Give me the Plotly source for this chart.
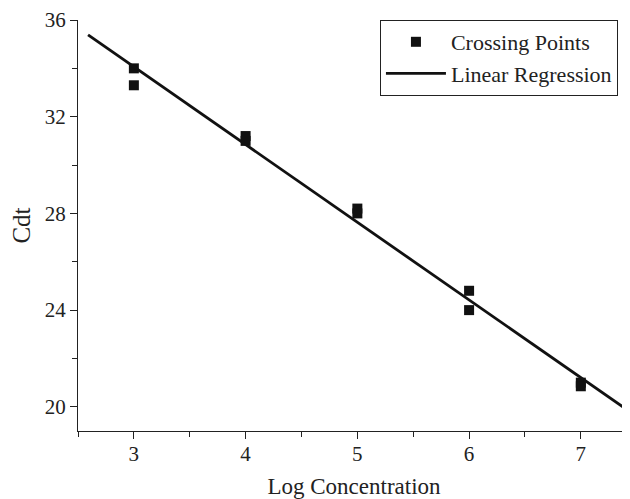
import numpy as np
import plotly.graph_objects as go

# Data
log_conc = [3, 3, 4, 4, 5, 5, 6, 6, 7, 7]
cdt = [34.0, 33.3, 31.2, 31.0, 28.2, 28.0, 24.8, 24.0, 21.0, 20.85]
fit_x_extent = [2.59, 7.39]

slope, intercept = np.polyfit(log_conc, cdt, 1)
fit_x = np.array(fit_x_extent)
fit_y = slope * fit_x + intercept

x_ticks = [3, 4, 5, 6, 7]
y_ticks = [20, 24, 28, 32, 36]

font = "Liberation Serif, Times New Roman, serif"

fig = go.Figure()
fig.add_trace(go.Scatter(
    x=log_conc, y=cdt, mode="markers", name="Crossing Points",
    marker=dict(symbol="square", size=10, color="#111111"),
))
fig.add_trace(go.Scatter(
    x=fit_x, y=fit_y, mode="lines", name="Linear Regression",
    line=dict(color="#111111", width=2.8),
))

# the page body adds an 8px offset, so margins are compensated
fig.update_layout(
    width=630, height=499,
    margin=dict(l=70, r=8, t=12, b=76, autoexpand=False),
    paper_bgcolor="white", plot_bgcolor="white",
    font=dict(family=font, size=21, color="#222222"),
    showlegend=True,
    legend=dict(
        x=0.547, y=1.0, xanchor="left", yanchor="top",
        bordercolor="#222222", borderwidth=1, bgcolor="white",
        font=dict(family=font, size=22, color="#222222"),
        tracegroupgap=0, itemwidth=60,
    ),
    xaxis=dict(
        range=[2.5, 7.44], tickvals=x_ticks, ticks="outside", ticklen=7,
        tickwidth=1, tickcolor="#222222", showline=True, linecolor="#222222",
        linewidth=1.2, showgrid=False, zeroline=False, automargin=False,
        minor=dict(dtick=0.5, tick0=2.5, ticks="outside", ticklen=5, tickcolor="#222222", showgrid=False),
        title=dict(text="Log Concentration", font=dict(family=font, size=23), standoff=12),
        tickfont=dict(family=font, size=21),
        ticklabelstandoff=-3,
    ),
    yaxis=dict(
        range=[19, 36], tickvals=y_ticks, ticks="outside", ticklen=7,
        tickwidth=1, tickcolor="#222222", showline=True, linecolor="#222222",
        linewidth=1.2, showgrid=False, zeroline=False, automargin=False,
        minor=dict(dtick=2, tick0=20, ticks="outside", ticklen=5, tickcolor="#222222", showgrid=False),
        title=dict(text="Cdt", font=dict(family=font, size=25), standoff=16),
        tickfont=dict(family=font, size=21),
    ),
)

fig.write_html("out.html")
